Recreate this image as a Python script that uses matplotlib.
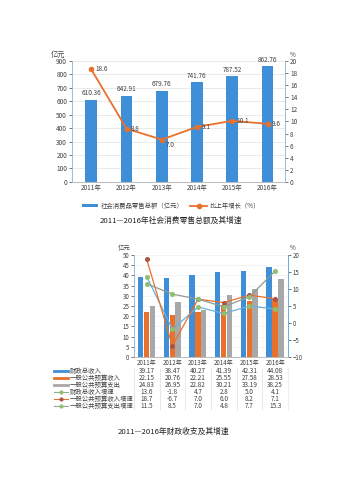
import matplotlib
matplotlib.use("Agg")
import numpy as np
import matplotlib.pyplot as plt
from matplotlib.lines import Line2D

plt.rcParams['font.family'] = ['Noto Sans CJK SC', 'DejaVu Sans']

years = ["2011年", "2012年", "2013年", "2014年", "2015年", "2016年"]

# chart 1
retail = [610.36, 642.91, 679.76, 741.76, 787.52, 862.76]
retail_growth = [18.6, 8.8, 7.0, 9.1, 10.1, 9.6]

# chart 2
fiscal_total = [39.17, 38.47, 40.27, 41.39, 42.31, 44.08]
budget_income = [22.15, 20.76, 22.21, 25.55, 27.58, 28.53]
budget_spend = [24.83, 26.95, 22.82, 30.21, 33.19, 38.25]
g_total = [13.6, -1.8, 4.7, 2.8, 5.0, 4.1]
g_income = [18.7, -6.7, 7.0, 6.0, 8.2, 7.1]
g_spend = [11.5, 8.5, 7.0, 4.8, 7.7, 15.3]

row_names = ["财政总收入", "一般公共预算收入", "一般公共预算支出",
             "财政总收入增速", "一般公共预算收入增速", "一般公共预算支出增速"]

BLUE = '#3f8fd8'
ORANGE = '#e9712b'
GRAY = '#a8a8a8'
GREEN = '#8fbf6e'
DRED = '#a9544c'
GRID = '#e6e6e6'
TXT = '#404040'
fs = 4.6

fig = plt.figure(figsize=(3.56, 4.8), dpi=100)
x = np.arange(len(years))

# ---------- top chart ----------
ax1 = fig.add_axes([0.202, 0.621, 0.599, 0.252])
ax1.bar(x, retail, width=0.33, color=BLUE, zorder=2, label="社会消费品零售总额（亿元）")
for i, v in enumerate(retail):
    ax1.text(i, v + 18, f"{v:.2f}", ha='center', va='bottom', fontsize=fs, color=TXT)
ax1.set_ylim(0, 900)
ax1.set_yticks(np.arange(0, 901, 100))
ax1.set_xlim(-0.55, 5.5)
ax1.set_xticks(x)
ax1.set_xticklabels(years)
ax1.grid(axis='y', color=GRID, lw=0.6, zorder=0)
ax1.set_axisbelow(True)

ax1b = ax1.twinx()
ax1b.plot(x, retail_growth, color=ORANGE, lw=1.3, marker='o', ms=3,
          label="比上年增长（%）")
for i, v in enumerate(retail_growth):
    dy = -0.9 if i == 2 else 0
    ax1b.text(i + 0.12, v + dy, f"{v:.1f}", ha='left', va='center', fontsize=fs, color=TXT)
ax1b.set_ylim(0, 20)
ax1b.set_yticks(np.arange(0, 21, 2))

for a in (ax1, ax1b):
    a.tick_params(labelsize=fs, colors=TXT, length=2, width=0.5, pad=1.5)
    a.spines['top'].set_visible(False)
    a.spines['left'].set_color('#9dbbd8')
    a.spines['right'].set_color('#9dbbd8')
    a.spines['bottom'].set_color('#bbbbbb')
    for s in a.spines.values():
        s.set_linewidth(0.6)
ax1.tick_params(axis='x', length=0)
ax1.text(-0.03, 1.02, "亿元", transform=ax1.transAxes, ha='right', va='bottom',
         fontsize=fs + 0.6, color=TXT)
ax1.text(1.02, 1.02, "%", transform=ax1.transAxes, ha='left', va='bottom',
         fontsize=fs, color=TXT)

h1, l1 = ax1.get_legend_handles_labels()
h2, l2 = ax1b.get_legend_handles_labels()
fig.legend(h1 + h2, l1 + l2, loc='center', bbox_to_anchor=(0.48, 0.571), ncol=2,
           frameon=False, fontsize=fs, handlelength=2.6, handleheight=0.5,
           columnspacing=1.0, handletextpad=0.4, labelcolor=TXT)
fig.text(0.48, 0.54, "2011—2016年社会消费零售总额及其增速", ha='center', va='center',
         fontsize=5.6, color='#222222')

# ---------- bottom chart ----------
ax2 = fig.add_axes([0.376, 0.256, 0.433, 0.213])
w = 0.21
ax2.bar(x - 0.24, fiscal_total, width=w, color=BLUE, zorder=2)
ax2.bar(x, budget_income, width=w, color=ORANGE, zorder=2)
ax2.bar(x + 0.22, budget_spend, width=w, color=GRAY, zorder=2)
ax2.set_ylim(0, 50)
ax2.set_yticks(np.arange(0, 51, 5))
ax2.set_xlim(-0.5, 5.5)
ax2.set_xticks(x)
ax2.set_xticklabels(years)
ax2.grid(axis='y', color='#f0f0f0', lw=0.5, zorder=0)
ax2.set_axisbelow(True)

ax2b = ax2.twinx()
ax2b.plot(x, g_total, color='#6aaee0', lw=0.9, marker='o', ms=2.6,
          mfc=GREEN, mec=GREEN)
ax2b.plot(x, g_income, color=ORANGE, lw=0.9, marker='o', ms=2.6,
          mfc=DRED, mec=DRED)
ax2b.plot(x, g_spend, color='#8e9a8e', lw=0.9, marker='o', ms=2.6,
          mfc=GREEN, mec=GREEN)
ax2b.set_ylim(-10, 20)
ax2b.set_yticks(np.arange(-10, 21, 5))

for a in (ax2, ax2b):
    a.tick_params(labelsize=fs - 0.2, colors=TXT, length=2, width=0.5, pad=1.2)
    a.spines['top'].set_visible(False)
    a.spines['left'].set_color('#9dbbd8')
    a.spines['right'].set_color('#6aaee0')
    a.spines['bottom'].set_color('#bbbbbb')
    for s in a.spines.values():
        s.set_linewidth(0.6)
ax2.tick_params(axis='x', length=0, pad=1)
ax2.text(-0.02, 1.03, "亿元", transform=ax2.transAxes, ha='right', va='bottom',
         fontsize=fs, color=TXT)
ax2.text(1.01, 1.03, "%", transform=ax2.transAxes, ha='left', va='bottom',
         fontsize=fs, color=TXT)

# data table under the chart
series = [fiscal_total, budget_income, budget_spend, g_total, g_income, g_spend]
cells = []
for name, vals in zip(row_names, series):
    if name.endswith("增速"):
        cells.append([name] + [f"{v:.1f}" for v in vals])
    else:
        cells.append([name] + [f"{v:.2f}" for v in vals])

lab_w = 0.52
tb_h = 0.41
tb_y = -0.105 - tb_h
tbl = ax2.table(cellText=cells, cellLoc='center',
                colWidths=[lab_w] + [1 / 6] * 6,
                bbox=[-lab_w, tb_y, 1 + lab_w, tb_h])
tbl.auto_set_font_size(False)
tbl.set_fontsize(fs)
for (r, c), cell in tbl.get_celld().items():
    cell.set_edgecolor('#e2e2e2')
    cell.set_linewidth(0.4)
    cell.get_text().set_color(TXT)
    if c == 0:
        cell.visible_edges = 'R'
        cell.get_text().set_ha('left')
        cell.PAD = 0.2
    else:
        cell.visible_edges = 'LR'

styles = [
    dict(color=BLUE, lw=2.0),
    dict(color=ORANGE, lw=2.0),
    dict(color=GRAY, lw=2.0),
    dict(color='#8fb08f', lw=0.8, marker='o', ms=2, mfc=GREEN, mec=GREEN),
    dict(color=ORANGE, lw=0.8, marker='o', ms=2, mfc=DRED, mec=DRED),
    dict(color='#9aa49a', lw=0.8, marker='o', ms=2, mfc=GREEN, mec=GREEN),
]
for i, st in enumerate(styles):
    yc = tb_y + tb_h * (6 - i - 0.5) / 6
    x0, x1 = -lab_w + 0.0, -lab_w + 0.09
    xm = (x0 + x1) / 2
    ax2.add_line(Line2D([x0, xm, x1], [yc, yc, yc], transform=ax2.transAxes,
                        clip_on=False, markevery=[1] if 'marker' in st else None,
                        **st))

fig.text(0.487, 0.1, "2011—2016年财政收支及其增速", ha='center', va='center',
         fontsize=5.6, color='#222222')

fig.savefig("out.png", dpi=100, facecolor='white')
